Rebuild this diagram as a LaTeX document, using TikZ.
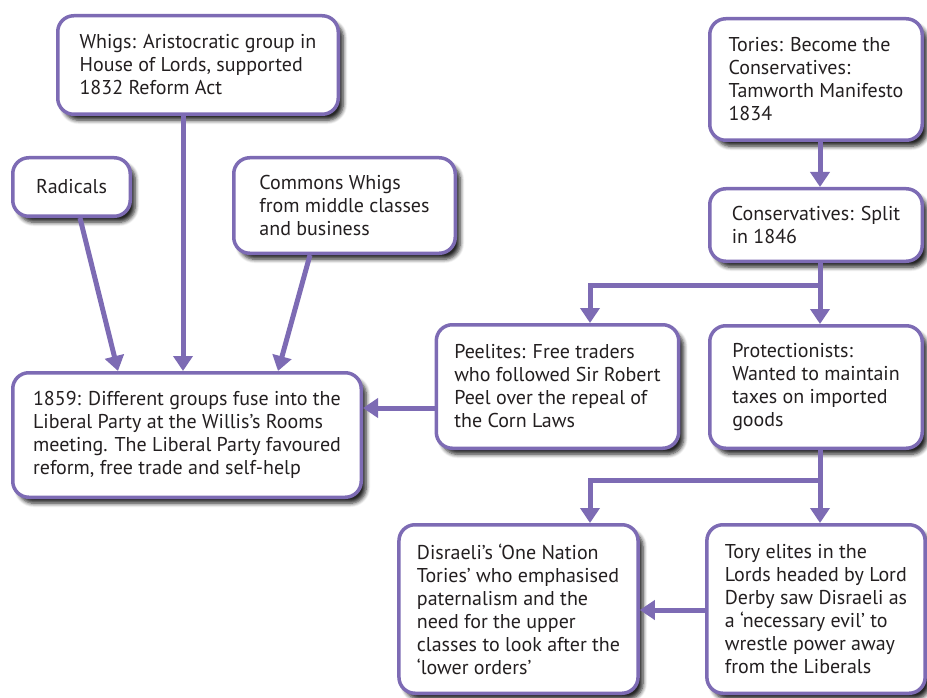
\documentclass[tikz,border=0pt]{standalone}
\usepackage{fontspec}
\setmainfont{PT Sans}
\usetikzlibrary{arrows.meta,shadows.blur}
\definecolor{lilac}{RGB}{125,107,180}
\definecolor{ink}{RGB}{35,31,32}
\tikzset{
    box/.style={draw=lilac, line width=3.5pt, fill=white, rounded corners=16pt, align=left,
        font=\fontsize{20}{23}\selectfont, text=ink, inner xsep=18pt,
        blur shadow={shadow xshift=5pt, shadow yshift=-6pt, shadow blur steps=6, shadow blur radius=4pt, shadow opacity=85}},
    arr/.style={draw=lilac, line width=5pt, -{Triangle[width=19pt,length=15pt]}},
    flow/.style={draw=lilac, line width=5pt}
}
\begin{document}
\begin{tikzpicture}[x=1pt, y=-1pt]
                    \useasboundingbox (0,0) rectangle (927,698);
                    \node[box, minimum width=280.5pt, minimum height=98.5pt] (whigs) at (198,65) {Whigs: Aristocratic group in\\House of Lords, supported\\1832 Reform Act};
                    \node[box, minimum width=117.5pt, minimum height=58.5pt] (radicals) at (71.5,187) {Radicals};
                    \node[box, minimum width=221.5pt, minimum height=95.5pt] (commons) at (344.5,205.5) {Commons Whigs\\from middle classes\\and business};
                    \node[box, minimum width=348.5pt, minimum height=124.5pt] (liberal) at (187,435) {1859: Different groups fuse into the\\Liberal Party at the Willis’s Rooms\\meeting. The Liberal Party favoured\\reform, free trade and self-help};
                    \node[box, minimum width=212.5pt, minimum height=121.5pt] (tories) at (816,79.5) {Tories: Become the\\Conservatives:\\Tamworth Manifesto\\1834};
                    \node[box, minimum width=212.5pt, minimum height=72.5pt] (split) at (816,225) {Conservatives: Split\\in 1846};
                    \node[box, minimum width=237.5pt, minimum height=123.5pt] (peelites) at (557.5,386.5) {Peelites: Free traders\\who followed Sir Robert\\Peel over the repeal of\\the Corn Laws};
                    \node[box, minimum width=212.5pt, minimum height=122.5pt] (protect) at (816,387) {Protectionists:\\Wanted to maintain\\taxes on imported\\goods};
                    \node[box, minimum width=237.5pt, minimum height=168.5pt] (disraeli) at (518.5,609) {Disraeli’s ‘One Nation\\Tories’ who emphasised\\paternalism and the\\need for the upper\\classes to look after the\\‘lower orders’};
                    \node[box, minimum width=212.5pt, minimum height=168.5pt] (elites) at (816,609) {Tory elites in the\\Lords headed by Lord\\Derby saw Disraeli as\\a ‘necessary evil’ to\\wrestle power away\\from the Liberals};

                    \draw[arr] ([xshift=-15pt]whigs.south) -- ([xshift=-4pt]liberal.north);
                    \draw[arr] ([xshift=8.5pt]radicals.south) -- ([xshift=-69pt]liberal.north);
                    \draw[arr] ([xshift=-34.5pt]commons.south) -- ([xshift=91pt]liberal.north);
                    \coordinate (pl) at ([yshift=-21.5pt]peelites.west);
                    \draw[arr] (pl) -- (pl -| liberal.east);
                    \draw[arr] ([xshift=4pt]tories.south) -- ([xshift=4pt]split.north);
                    \coordinate (sj) at ([xshift=4pt,yshift=-22pt]split.south);
                    \draw[flow] ([xshift=4pt]split.south) -- (sj);
                    \draw[arr] (sj) -- ([xshift=4pt]protect.north);
                    \draw[arr] (sj) -| ([xshift=32.5pt]peelites.north);
                    \coordinate (pj) at ([xshift=4pt,yshift=-30pt]protect.south);
                    \draw[flow] ([xshift=4pt]protect.south) -- (pj);
                    \draw[arr] (pj) -- ([xshift=4pt]elites.north);
                    \draw[arr] (pj) -| ([xshift=71.5pt]disraeli.north);
                    \coordinate (ed) at ([yshift=-1pt]elites.west);
                    \draw[arr] (ed) -- (ed -| disraeli.east);
\end{tikzpicture}
\end{document}
